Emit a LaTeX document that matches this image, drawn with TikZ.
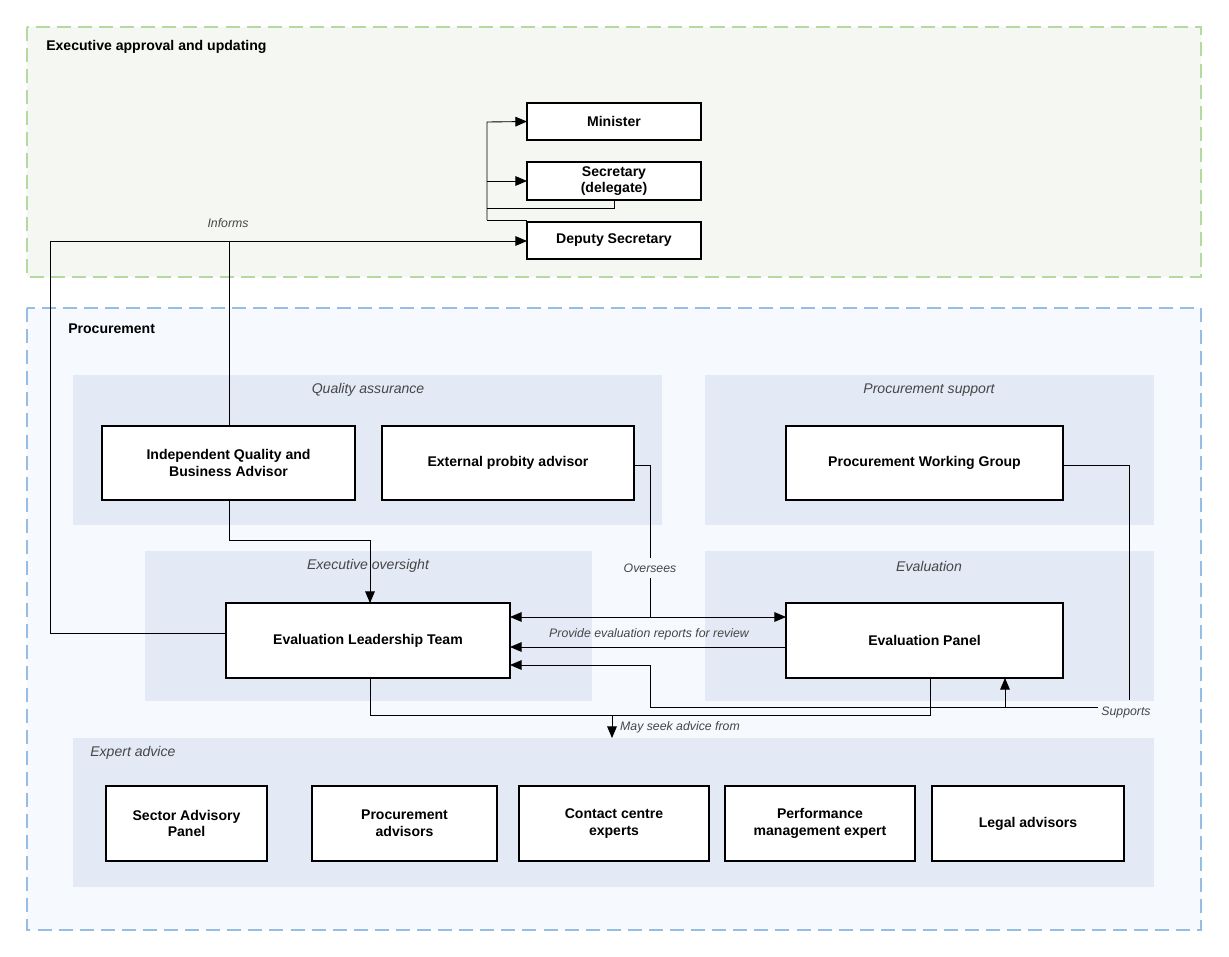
\documentclass[tikz,border=0pt]{standalone}
\usepackage{fontspec}
\setmainfont{Liberation Sans}
\usepackage{tikz}
\usetikzlibrary{calc,positioning,arrows}
\definecolor{grnline}{RGB}{180,218,160}
\definecolor{grnfill}{RGB}{245,248,242}
\definecolor{blueline}{RGB}{150,190,228}
\definecolor{bluefill}{RGB}{246,249,253}
\definecolor{panel}{RGB}{227,234,245}
\definecolor{lbl}{RGB}{70,70,70}
\tikzstyle{Box} = [draw=black, line width=1.2pt, fill=white]
\tikzstyle{BoxText} = [font=\fontsize{8}{9.5}\selectfont\bfseries, align=center]
\tikzstyle{Panel} = [fill=panel, draw=none]
\tikzstyle{PanelText} = [font=\fontsize{8}{9.5}\selectfont\itshape, text=lbl]
\tikzstyle{Note} = [font=\fontsize{7}{8}\selectfont\itshape, text=lbl, inner sep=1pt]
\tikzstyle{arrow} = [->, >=triangle 45]
\begin{document}
\begin{tikzpicture}[x=0.02cm, y=-0.02cm, line width=0.5pt]
        \useasboundingbox (0,0) rectangle (1229,956);
        \draw [grnline, fill=grnfill, dashed, line width=1.2pt, dash pattern=on 8pt off 4pt] (27,27) rectangle (1201,277);
        \node [BoxText, anchor=west] at (40,47) {Executive approval and updating};
        \draw [blueline, fill=bluefill, dashed, line width=1.2pt, dash pattern=on 8pt off 4pt] (27,308) rectangle (1201,930);
        \node [BoxText, anchor=west] at (62,329) {Procurement};
        \draw [Panel] (73,375) rectangle (662,525) node[PanelText, pos=.5, yshift=2.1cm-0.3cm-0.55cm] {}; %quality assurance
        \node [PanelText] (QAlabel) at (368,390) {Quality assurance};
        \draw [Panel] (705,375) rectangle (1154,525);
        \node [PanelText] (PSlabel) at (929,390) {Procurement support};
        \draw [Panel] (145,551) rectangle (592,701);
        \node [PanelText] (EOlabel) at (368,566) {Executive oversight};
        \draw [Panel] (705,551) rectangle (1154,701);
        \node [PanelText] (EVlabel) at (929,566) {Evaluation};
        \draw [Panel] (73,738) rectangle (1154,887);
        \node [PanelText, anchor=west] (EAlabel) at (84,753) {Expert advice};
        % executive boxes
        \draw [Box] (527,103) rectangle (701,140) node[BoxText, pos=.5] (Minister) {Minister};
        \draw [Box] (527,162) rectangle (701,200) node[BoxText, pos=.5] (Secretary) {Secretary\\(delegate)};
        \draw [Box] (527,222) rectangle (701,259) node[BoxText, pos=.5] (Deputy) {Deputy Secretary};
        % procurement boxes
        \draw [Box] (102,426) rectangle (355,500) node[BoxText, pos=.5] (IQBA) {Independent Quality and\\Business Advisor};
        \draw [Box] (382,426) rectangle (634,500) node[BoxText, pos=.5] (Probity) {External probity advisor};
        \draw [Box] (786,426) rectangle (1063,500) node[BoxText, pos=.5] (PWG) {Procurement Working Group};
        \draw [Box] (226,603) rectangle (510,678) node[BoxText, pos=.5] (ELT) {Evaluation Leadership Team};
        \draw [Box] (786,603) rectangle (1063,678) node[BoxText, pos=.5] (Panel) {Evaluation Panel};
        \draw [Box] (106,786) rectangle (267,861) node[BoxText, pos=.5] (Sector) {Sector Advisory\\Panel};
        \draw [Box] (312,786) rectangle (497,861) node[BoxText, pos=.5] (ProcAdv) {Procurement\\advisors};
        \draw [Box] (519,786) rectangle (709,861) node[BoxText, pos=.5] (Contact) {Contact centre\\experts};
        \draw [Box] (725,786) rectangle (915,861) node[BoxText, pos=.5] (Perf) {Performance\\management expert};
        \draw [Box] (932,786) rectangle (1124,861) node[BoxText, pos=.5] (Legal) {Legal advisors};
        % connectors
        \coordinate (SecFoot) at (614,200);
        \draw (SecFoot) -- (614,208) -- (487,208);
        \draw [arrow] (487,220) -- (487,122) -- (Minister.west -| 527,0);
        \draw [arrow] (487,181) -- (527,181);
        \draw (487,220) -- (527,220);
        \draw [arrow] (226,633) -- (50,633) -- (50,241) -- (527,241);
        \draw (229,426) -- (229,241);
        \node [Note] (Informs) at (228,223) {Informs};
        \draw [arrow] (229,500) -- (229,540) -- (370,540) -- (370,603);
        \draw (634,465) -- (650,465) -- (650,558);
        \node [Note] (Oversees) at (650,568) {Oversees};
        \draw (650,578) -- (650,617);
        \draw [arrow, <->] (510,617) -- (786,617);
        \draw [arrow] (786,647) -- (510,647);
        \node [Note] (Provide) at (649,634) {Provide evaluation reports for review};
        \draw (1063,465) -- (1129,465) -- (1129,700);
        \node [Note] (Supports) at (1126,712) {Supports};
        \draw [arrow] (1098,707) -- (650,707) -- (650,665) -- (510,665);
        \draw [arrow] (1005,707) -- (1005,678);
        \draw (370,678) -- (370,715) -- (930,715) -- (930,678);
        \draw [arrow] (612,715) -- (612,738);
        \node [Note, anchor=west] (Seek) at (618,727) {May seek advice from};
    \end{tikzpicture}
\end{document}
